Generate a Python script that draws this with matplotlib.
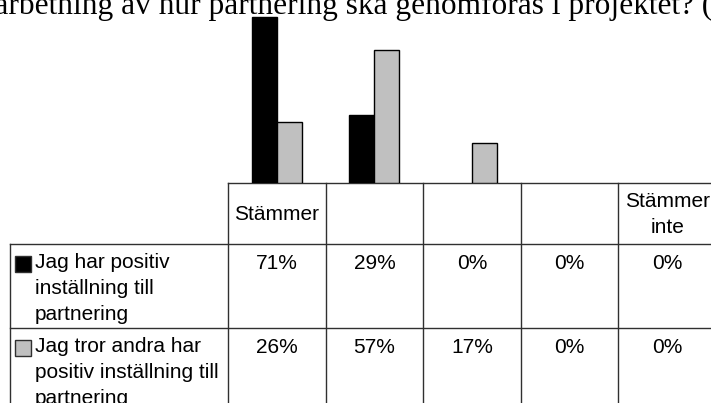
import matplotlib.pyplot as plt

# Answer categories (columns) and the two statements (rows)
categories = ['Stämmer', '', '', '', 'Stämmer\ninte']
statements = ['Jag har positiv\ninställning till\npartnering',
              'Jag tror andra har\npositiv inställning till\npartnering']
own_attitude = [71, 29, 0, 0, 0]
others_attitude = [26, 57, 17, 0, 0]
title = 'utarbetning av hur partnering ska genomföras i projektet? ('

colors = ['black', '#c0c0c0']
W, H = 711, 403

fig = plt.figure(figsize=(W / 100, H / 100), dpi=100)

# pixel helpers for placing axes
col_left, col_right = 228, 716
base_y = 183
row_tops = [183, 244, 328, 420]
label_left = 10

# Bar chart sits above the data table
ax = fig.add_axes([col_left / W, (H - base_y) / H,
                   (col_right - col_left) / W, base_y / H])
x = list(range(len(categories)))
bw = 0.256
for vals, off, c in [(own_attitude, -bw / 2, colors[0]),
                     (others_attitude, bw / 2, colors[1])]:
    bars = ax.bar([i + off for i in x], vals, bw, color=c,
                  edgecolor='black', linewidth=1)
    # empty categories get no outline along the baseline
    for b, v in zip(bars, vals):
        if v == 0:
            b.set_visible(False)
ax.set_xlim(-0.5, len(categories) - 0.5)
ax.set_ylim(0, 78.3)
ax.axis('off')

# Overlay in pixel units for the table and the heading
ov = fig.add_axes([0, 0, 1, 1], zorder=-1)
ov.set_xlim(0, W)
ov.set_ylim(H, 0)
ov.axis('off')

ov.text(712, 14, title, ha='right', va='baseline',
        family='Liberation Serif', fontsize=22.6)

line_kw = dict(color='#303030', lw=1)
col_w = (col_right - col_left) / len(categories)
edges = [col_left + i * col_w for i in range(len(categories) + 1)]

# horizontal lines
ov.plot([col_left, col_right], [row_tops[0]] * 2, **line_kw)
for y in row_tops[1:3]:
    ov.plot([label_left, col_right], [y, y], **line_kw)
# vertical lines
for xe in edges:
    ov.plot([xe, xe], [row_tops[0], H + 10], **line_kw)
ov.plot([label_left, label_left], [row_tops[1], H + 10], **line_kw)

font = dict(family='Liberation Sans', fontsize=15)

# header cells
for i, cat in enumerate(categories):
    if cat:
        ov.text(edges[i] + col_w / 2, (row_tops[0] + row_tops[1]) / 2 + 1,
                cat, ha='center', va='center', linespacing=1.45, **font)

# data rows
for r, (label, vals) in enumerate(zip(statements, [own_attitude, others_attitude])):
    top = row_tops[r + 1]
    ov.add_patch(plt.Rectangle((15, top + 12), 16, 16, facecolor=colors[r],
                               edgecolor='#303030', lw=1))
    ov.text(35, top + 9, label, ha='left', va='top', linespacing=1.45, **font)
    for i, v in enumerate(vals):
        ov.text(edges[i] + col_w / 2, top + 10, f'{v}%', ha='center',
                va='top', **font)

fig.savefig('out.png', dpi=100)
